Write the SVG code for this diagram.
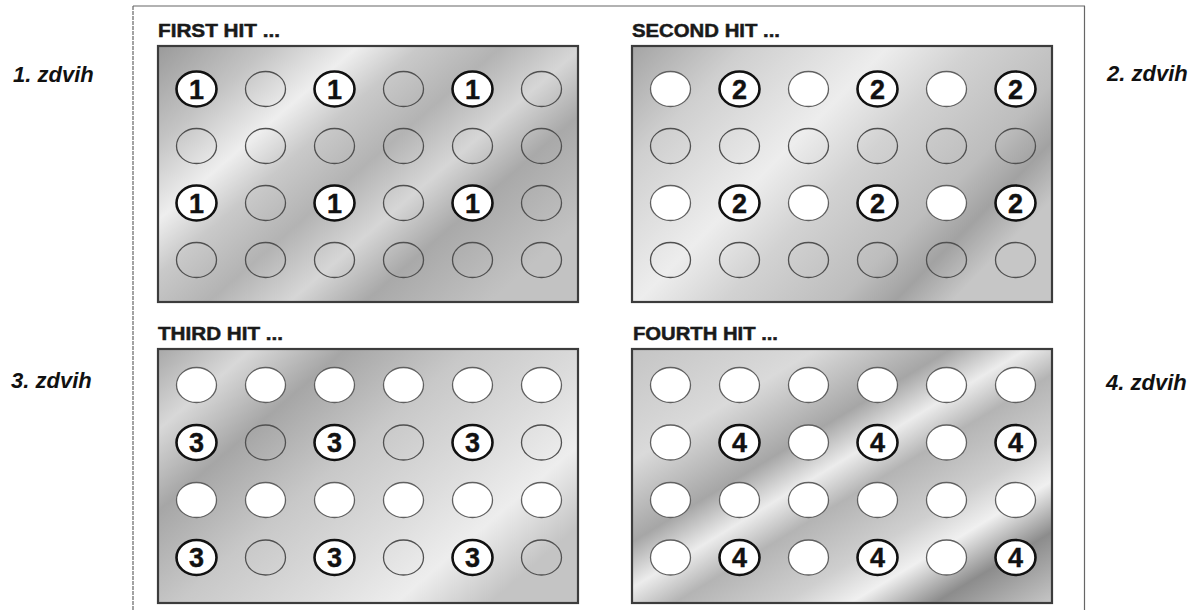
<svg xmlns="http://www.w3.org/2000/svg" width="1198" height="610" viewBox="0 0 1198 610">
<style>
.lbl{font-family:"Liberation Sans",Arial,sans-serif;font-weight:bold;font-style:italic;font-size:22px;fill:#111}
.ttl{font-family:"Liberation Sans",Arial,sans-serif;font-weight:bold;font-size:18.5px;fill:#1a1a1a;stroke:#1a1a1a;stroke-width:0.5}
.plate{stroke:#3c3c3c;stroke-width:2.2}
.e{fill:none;stroke:#505050;stroke-width:1.3}
.w{fill:#fff;stroke:#606060;stroke-width:1.3}
.n{fill:#fff;stroke:#111;stroke-width:2.6}
.d{font-family:"Liberation Sans",Arial,sans-serif;font-weight:bold;font-size:27px;fill:#111;stroke:#111;stroke-width:0.4;text-anchor:middle}
.frame{stroke:#666;stroke-width:1.2;fill:none}
</style>
<defs>
<linearGradient id="g1" x1="0" y1="0" x2="1" y2="0.7">
<stop offset="0" stop-color="#9a9a9a"/>
<stop offset="0.18" stop-color="#c4c4c4"/>
<stop offset="0.32" stop-color="#eeeeee"/>
<stop offset="0.42" stop-color="#c9c9c9"/>
<stop offset="0.55" stop-color="#b3b3b3"/>
<stop offset="0.68" stop-color="#d6d6d6"/>
<stop offset="0.8" stop-color="#a9a9a9"/>
<stop offset="1" stop-color="#c2c2c2"/>
</linearGradient>
<linearGradient id="g2" x1="0" y1="0" x2="1" y2="0.6">
<stop offset="0" stop-color="#a4a4a4"/>
<stop offset="0.2" stop-color="#cfcfcf"/>
<stop offset="0.45" stop-color="#ededed"/>
<stop offset="0.6" stop-color="#d2d2d2"/>
<stop offset="0.8" stop-color="#bdbdbd"/>
<stop offset="0.9" stop-color="#a2a2a2"/>
<stop offset="1" stop-color="#c6c6c6"/>
</linearGradient>
<linearGradient id="g3" x1="0" y1="0" x2="1" y2="0.7">
<stop offset="0" stop-color="#a8a8a8"/>
<stop offset="0.15" stop-color="#d8d8d8"/>
<stop offset="0.3" stop-color="#a6a6a6"/>
<stop offset="0.5" stop-color="#c8c8c8"/>
<stop offset="0.7" stop-color="#dcdcdc"/>
<stop offset="0.85" stop-color="#ededed"/>
<stop offset="1" stop-color="#c4c4c4"/>
</linearGradient>
<linearGradient id="g4" x1="0" y1="0" x2="1" y2="1">
<stop offset="0" stop-color="#c4c4c4"/>
<stop offset="0.22" stop-color="#dadada"/>
<stop offset="0.38" stop-color="#a6a6a6"/>
<stop offset="0.47" stop-color="#ececec"/>
<stop offset="0.55" stop-color="#b4b4b4"/>
<stop offset="0.68" stop-color="#cfcfcf"/>
<stop offset="0.76" stop-color="#f0f0f0"/>
<stop offset="0.86" stop-color="#8c8c8c"/>
<stop offset="1" stop-color="#c6c6c6"/>
</linearGradient>
</defs>
<rect width="1198" height="610" fill="#fff"/>
<g id="frame">
<line class="frame" x1="133" y1="6" x2="1085" y2="6"/>
<line class="frame" x1="133" y1="6" x2="133" y2="610" stroke-dasharray="4 1"/>
<line class="frame" x1="1084.5" y1="6" x2="1084.5" y2="610"/>
</g>
<g id="labels">
<text class="lbl" x="13" y="82">1. zdvih</text>
<text class="lbl" x="1107" y="81">2. zdvih</text>
<text class="lbl" x="11" y="388">3. zdvih</text>
<text class="lbl" x="1106" y="390">4. zdvih</text>
</g>
<g id="panel1">
<text class="ttl" x="158" y="37" textLength="122" lengthAdjust="spacingAndGlyphs">FIRST HIT ...</text>
<rect class="plate" x="158" y="46" width="420" height="256" fill="url(#g1)"/>
<ellipse class="n" cx="196.5" cy="89" rx="20" ry="17.5"/><text class="d" x="196.5" y="98.5">1</text>
<ellipse class="e" cx="265.5" cy="89" rx="20" ry="17.5"/>
<ellipse class="n" cx="334.5" cy="89" rx="20" ry="17.5"/><text class="d" x="334.5" y="98.5">1</text>
<ellipse class="e" cx="403.5" cy="89" rx="20" ry="17.5"/>
<ellipse class="n" cx="472.5" cy="89" rx="20" ry="17.5"/><text class="d" x="472.5" y="98.5">1</text>
<ellipse class="e" cx="541.5" cy="89" rx="20" ry="17.5"/>
<ellipse class="e" cx="196.5" cy="146" rx="20" ry="17.5"/>
<ellipse class="e" cx="265.5" cy="146" rx="20" ry="17.5"/>
<ellipse class="e" cx="334.5" cy="146" rx="20" ry="17.5"/>
<ellipse class="e" cx="403.5" cy="146" rx="20" ry="17.5"/>
<ellipse class="e" cx="472.5" cy="146" rx="20" ry="17.5"/>
<ellipse class="e" cx="541.5" cy="146" rx="20" ry="17.5"/>
<ellipse class="n" cx="196.5" cy="203" rx="20" ry="17.5"/><text class="d" x="196.5" y="212.5">1</text>
<ellipse class="e" cx="265.5" cy="203" rx="20" ry="17.5"/>
<ellipse class="n" cx="334.5" cy="203" rx="20" ry="17.5"/><text class="d" x="334.5" y="212.5">1</text>
<ellipse class="e" cx="403.5" cy="203" rx="20" ry="17.5"/>
<ellipse class="n" cx="472.5" cy="203" rx="20" ry="17.5"/><text class="d" x="472.5" y="212.5">1</text>
<ellipse class="e" cx="541.5" cy="203" rx="20" ry="17.5"/>
<ellipse class="e" cx="196.5" cy="260" rx="20" ry="17.5"/>
<ellipse class="e" cx="265.5" cy="260" rx="20" ry="17.5"/>
<ellipse class="e" cx="334.5" cy="260" rx="20" ry="17.5"/>
<ellipse class="e" cx="403.5" cy="260" rx="20" ry="17.5"/>
<ellipse class="e" cx="472.5" cy="260" rx="20" ry="17.5"/>
<ellipse class="e" cx="541.5" cy="260" rx="20" ry="17.5"/>
</g>
<g id="panel2">
<text class="ttl" x="632" y="37" textLength="148" lengthAdjust="spacingAndGlyphs">SECOND HIT ...</text>
<rect class="plate" x="632" y="46" width="420" height="256" fill="url(#g2)"/>
<ellipse class="w" cx="670.5" cy="89" rx="20" ry="17.5"/>
<ellipse class="n" cx="739.5" cy="89" rx="20" ry="17.5"/><text class="d" x="739.5" y="98.5">2</text>
<ellipse class="w" cx="808.5" cy="89" rx="20" ry="17.5"/>
<ellipse class="n" cx="877.5" cy="89" rx="20" ry="17.5"/><text class="d" x="877.5" y="98.5">2</text>
<ellipse class="w" cx="946.5" cy="89" rx="20" ry="17.5"/>
<ellipse class="n" cx="1015.5" cy="89" rx="20" ry="17.5"/><text class="d" x="1015.5" y="98.5">2</text>
<ellipse class="e" cx="670.5" cy="146" rx="20" ry="17.5"/>
<ellipse class="e" cx="739.5" cy="146" rx="20" ry="17.5"/>
<ellipse class="e" cx="808.5" cy="146" rx="20" ry="17.5"/>
<ellipse class="e" cx="877.5" cy="146" rx="20" ry="17.5"/>
<ellipse class="e" cx="946.5" cy="146" rx="20" ry="17.5"/>
<ellipse class="e" cx="1015.5" cy="146" rx="20" ry="17.5"/>
<ellipse class="w" cx="670.5" cy="203" rx="20" ry="17.5"/>
<ellipse class="n" cx="739.5" cy="203" rx="20" ry="17.5"/><text class="d" x="739.5" y="212.5">2</text>
<ellipse class="w" cx="808.5" cy="203" rx="20" ry="17.5"/>
<ellipse class="n" cx="877.5" cy="203" rx="20" ry="17.5"/><text class="d" x="877.5" y="212.5">2</text>
<ellipse class="w" cx="946.5" cy="203" rx="20" ry="17.5"/>
<ellipse class="n" cx="1015.5" cy="203" rx="20" ry="17.5"/><text class="d" x="1015.5" y="212.5">2</text>
<ellipse class="e" cx="670.5" cy="260" rx="20" ry="17.5"/>
<ellipse class="e" cx="739.5" cy="260" rx="20" ry="17.5"/>
<ellipse class="e" cx="808.5" cy="260" rx="20" ry="17.5"/>
<ellipse class="e" cx="877.5" cy="260" rx="20" ry="17.5"/>
<ellipse class="e" cx="946.5" cy="260" rx="20" ry="17.5"/>
<ellipse class="e" cx="1015.5" cy="260" rx="20" ry="17.5"/>
</g>
<g id="panel3">
<text class="ttl" x="158" y="340" textLength="125" lengthAdjust="spacingAndGlyphs">THIRD HIT ...</text>
<rect class="plate" x="158" y="349" width="420" height="254" fill="url(#g3)"/>
<ellipse class="w" cx="196.5" cy="385" rx="20" ry="17.5"/>
<ellipse class="w" cx="265.5" cy="385" rx="20" ry="17.5"/>
<ellipse class="w" cx="334.5" cy="385" rx="20" ry="17.5"/>
<ellipse class="w" cx="403.5" cy="385" rx="20" ry="17.5"/>
<ellipse class="w" cx="472.5" cy="385" rx="20" ry="17.5"/>
<ellipse class="w" cx="541.5" cy="385" rx="20" ry="17.5"/>
<ellipse class="n" cx="196.5" cy="442.5" rx="20" ry="17.5"/><text class="d" x="196.5" y="452">3</text>
<ellipse class="e" cx="265.5" cy="442.5" rx="20" ry="17.5"/>
<ellipse class="n" cx="334.5" cy="442.5" rx="20" ry="17.5"/><text class="d" x="334.5" y="452">3</text>
<ellipse class="e" cx="403.5" cy="442.5" rx="20" ry="17.5"/>
<ellipse class="n" cx="472.5" cy="442.5" rx="20" ry="17.5"/><text class="d" x="472.5" y="452">3</text>
<ellipse class="e" cx="541.5" cy="442.5" rx="20" ry="17.5"/>
<ellipse class="w" cx="196.5" cy="500" rx="20" ry="17.5"/>
<ellipse class="w" cx="265.5" cy="500" rx="20" ry="17.5"/>
<ellipse class="w" cx="334.5" cy="500" rx="20" ry="17.5"/>
<ellipse class="w" cx="403.5" cy="500" rx="20" ry="17.5"/>
<ellipse class="w" cx="472.5" cy="500" rx="20" ry="17.5"/>
<ellipse class="w" cx="541.5" cy="500" rx="20" ry="17.5"/>
<ellipse class="n" cx="196.5" cy="557.5" rx="20" ry="17.5"/><text class="d" x="196.5" y="567">3</text>
<ellipse class="e" cx="265.5" cy="557.5" rx="20" ry="17.5"/>
<ellipse class="n" cx="334.5" cy="557.5" rx="20" ry="17.5"/><text class="d" x="334.5" y="567">3</text>
<ellipse class="e" cx="403.5" cy="557.5" rx="20" ry="17.5"/>
<ellipse class="n" cx="472.5" cy="557.5" rx="20" ry="17.5"/><text class="d" x="472.5" y="567">3</text>
<ellipse class="e" cx="541.5" cy="557.5" rx="20" ry="17.5"/>
</g>
<g id="panel4">
<text class="ttl" x="633" y="340" textLength="145" lengthAdjust="spacingAndGlyphs">FOURTH HIT ...</text>
<rect class="plate" x="632" y="349" width="420" height="254" fill="url(#g4)"/>
<ellipse class="w" cx="670.5" cy="385" rx="20" ry="17.5"/>
<ellipse class="w" cx="739.5" cy="385" rx="20" ry="17.5"/>
<ellipse class="w" cx="808.5" cy="385" rx="20" ry="17.5"/>
<ellipse class="w" cx="877.5" cy="385" rx="20" ry="17.5"/>
<ellipse class="w" cx="946.5" cy="385" rx="20" ry="17.5"/>
<ellipse class="w" cx="1015.5" cy="385" rx="20" ry="17.5"/>
<ellipse class="w" cx="670.5" cy="442.5" rx="20" ry="17.5"/>
<ellipse class="n" cx="739.5" cy="442.5" rx="20" ry="17.5"/><text class="d" x="739.5" y="452">4</text>
<ellipse class="w" cx="808.5" cy="442.5" rx="20" ry="17.5"/>
<ellipse class="n" cx="877.5" cy="442.5" rx="20" ry="17.5"/><text class="d" x="877.5" y="452">4</text>
<ellipse class="w" cx="946.5" cy="442.5" rx="20" ry="17.5"/>
<ellipse class="n" cx="1015.5" cy="442.5" rx="20" ry="17.5"/><text class="d" x="1015.5" y="452">4</text>
<ellipse class="w" cx="670.5" cy="500" rx="20" ry="17.5"/>
<ellipse class="w" cx="739.5" cy="500" rx="20" ry="17.5"/>
<ellipse class="w" cx="808.5" cy="500" rx="20" ry="17.5"/>
<ellipse class="w" cx="877.5" cy="500" rx="20" ry="17.5"/>
<ellipse class="w" cx="946.5" cy="500" rx="20" ry="17.5"/>
<ellipse class="w" cx="1015.5" cy="500" rx="20" ry="17.5"/>
<ellipse class="w" cx="670.5" cy="557.5" rx="20" ry="17.5"/>
<ellipse class="n" cx="739.5" cy="557.5" rx="20" ry="17.5"/><text class="d" x="739.5" y="567">4</text>
<ellipse class="w" cx="808.5" cy="557.5" rx="20" ry="17.5"/>
<ellipse class="n" cx="877.5" cy="557.5" rx="20" ry="17.5"/><text class="d" x="877.5" y="567">4</text>
<ellipse class="w" cx="946.5" cy="557.5" rx="20" ry="17.5"/>
<ellipse class="n" cx="1015.5" cy="557.5" rx="20" ry="17.5"/><text class="d" x="1015.5" y="567">4</text>
</g>
</svg>
